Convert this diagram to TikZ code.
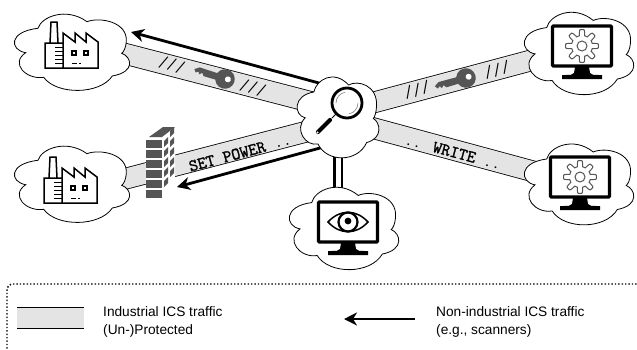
\documentclass[tikz,border=0pt]{standalone}
\usepackage{fontspec}
\setmainfont{Liberation Sans}
\newfontfamily\bandbold{Latin Modern Mono}[FakeBold=1.6]
\usetikzlibrary{arrows.meta}
\definecolor{bandgray}{HTML}{E4E4E4}
\definecolor{icongray}{HTML}{555555}
\tikzset{
    trafficband/.style={draw=black, line width=0.8pt, double=bandgray, double distance=20pt},
    scanarrow/.style={draw=black, line width=2.8pt, -{Stealth[length=13pt,width=13pt,inset=4pt]}},
    bandtext/.style={font=\ttfamily\fontsize{17}{17}\selectfont, inner sep=0pt},
    legendtext/.style={font=\fontsize{13.7}{18}\selectfont, align=left, anchor=west, inner sep=0pt},
    cloudshape/.pic={
        \draw[fill=white, line width=0.8pt]
            (-34,-21.7) .. controls (-30.7,-33.3) and (-5.7,-43.3) .. (15,-28.3)
            .. controls (27.7,-33.3) and (56,-28.3) .. (54.3,-8.3)
            .. controls (53.7,-1.7) and (51.7,1.7) .. (49.7,3.3)
            .. controls (59.3,6.7) and (64.3,21.7) .. (40.3,26)
            .. controls (27.7,45) and (-15.7,45) .. (-28.3,27.3)
            .. controls (-45.7,30) and (-62.3,13.3) .. (-46.3,2.7)
            .. controls (-62.3,0) and (-64,-18.3) .. (-34,-21.7) -- cycle;
    },
    factoryicon/.pic={
        \draw[line width=1.5pt, fill=white, line join=miter]
            (-22,-7) -- (-21,-28) -- (-15,-28) -- (-14,-7)
            (-27,-7) rectangle (-9,18)
            (-9,-7) -- (-9,-17) -- (3,-8) -- (3,-17) -- (14,-8) -- (14,-17) -- (26,-8) -- (26,18) -- (-9,18);
        \foreach \stripe in {-3,1,5,9,13}
            \draw[line width=1pt] (-17,\stripe) -- (-9,\stripe);
        \draw[line width=1.3pt] (0,1) rectangle (4,5) (12,1) rectangle (16,5);
        \draw[line width=1pt] (0,13) -- (5,13) (7,13) -- (9,13);
    },
    monitoricon/.pic={
        \draw[line width=3.4pt, rounded corners=1pt, fill=white] (-29.5,-20) rectangle (29.5,20);
        \fill (-7,21) -- (7,21) -- (8,27) .. controls (10,29) .. (20,29) -- (20,33) -- (-20,33) -- (-20,29)
            .. controls (-10,29) .. (-8,27) -- cycle;
    },
    gearicon/.pic={
        \draw[icongray, line width=1pt, smooth]
            plot[domain=0:360, samples=121] (\x:{13.5+3*max(min(2.2*cos(8*\x),1),-1)}) -- cycle;
        \draw[icongray, line width=1pt] (0,0) circle (5);
    },
    eyeicon/.pic={
        \draw[line width=1.5pt] (-20,0) .. controls (-8,-13) and (8,-13) .. (20,0)
            .. controls (8,13) and (-8,13) .. (-20,0) -- cycle;
        \draw[line width=2.2pt] (0,0) circle (9.5);
        \fill (0,-1) circle (3.4);
    },
    keyicon/.pic={
        \fill[icongray] (0,0) circle (8.5);
        \fill[icongray] (-5,-2.8) -- (-24,-2.8) -- (-28,0) -- (-26,2.5) -- (-24,1) -- (-22.5,3) -- (-20.5,1)
            -- (-18.5,3.4) -- (-5,3) -- cycle;
        \fill[white] (2.5,-0.5) circle (2.6);
    },
    magnifier/.pic={
        \draw[line width=2.8pt, fill=white] (0,0) circle (15);
        \draw[gray, line width=0.6pt] (-11,0) arc (180:260:11);
        \draw[gray, line width=0.6pt] (11,0) arc (0:80:11);
        \draw[line width=1pt] (-11,11) -- (-15,15);
        \draw[line width=4.2pt, draw=black, line cap=round] (-17,17) -- (-29,29);
        \fill[white] (-29.5,29.5) circle (1.2);
    },
}
\begin{document}
\begin{tikzpicture}[x=1pt, y=-1pt]
    \useasboundingbox (0,0) rectangle (637,349);
    % cloud centres
    \coordinate (factoryA) at (72,50);
    \coordinate (factoryB) at (72,182);
    \coordinate (stationA) at (579,51);
    \coordinate (stationB) at (579,182);
    \coordinate (observer) at (344,226);
    \coordinate (hub) at (338,115);
    % band ends under the clouds
    \coordinate (bandAleft) at (72,40);
    \coordinate (bandAright) at (338,109);
    \coordinate (bandBleft) at (72,192.6);
    \coordinate (bandBright) at (338,123.4);
    \coordinate (bandCleft) at (338,112);
    \coordinate (bandCright) at (579,47.6);
    \coordinate (bandDleft) at (338,118.6);
    \coordinate (bandDright) at (579,183.8);
    \coordinate (scanAstart) at (330,86);
    \coordinate (scanAend) at (131,32);
    \coordinate (scanBstart) at (331,145);
    \coordinate (scanBend) at (177,187);

    \draw[trafficband] (bandAleft) -- (bandAright);
    \draw[trafficband] (bandBleft) -- (bandBright);
    \draw[trafficband] (bandCleft) -- (bandCright);
    \draw[trafficband] (bandDleft) -- (bandDright);
    \draw[scanarrow] (scanAstart) -- (scanAend);
    \draw[scanarrow] (scanBstart) -- (scanBend);
    \draw[line width=2.5pt, double=white, double distance=5pt] (hub) -- (hub |- observer);

    % clouds
    \pic at (factoryA) {cloudshape};
    \pic at (factoryB) {cloudshape};
    \pic[xscale=0.95, yscale=1.08] at (stationA) {cloudshape};
    \pic[xscale=0.95, yscale=1.06] at (stationB) {cloudshape};
    \pic[xscale=0.95, yscale=1.08] at (observer) {cloudshape};
    \pic[xscale=0.71, yscale=1.06] at (hub) {cloudshape};

    % icons
    \pic at (72,50) {factoryicon};
    \pic at (71,185) {factoryicon};
    \pic at (582,46) {monitoricon};
    \pic at (582,46) {gearicon};
    \pic at (580,177) {monitoricon};
    \pic at (580,177) {gearicon};
    \pic at (348,222) {monitoricon};
    \pic at (348,222) {eyeicon};
    \pic at (347,103) {magnifier};
    \pic[rotate=-18, scale=1.15] at (225,79) {keyicon};
    \pic[rotate=15, scale=1.15] at (466,78) {keyicon};

    % firewall
    \fill[white] (146,139) -- (149,137) -- (163,127) -- (175,127) -- (175,185) -- (163,198) -- (146,198) -- cycle;
    \fill[icongray] (149,137) -- (163,127) -- (175,127) -- (162,137) -- cycle;
    \foreach \row in {0,...,5}
        \fill[icongray] (146,{140+10*\row}) rectangle (162,{147.5+10*\row});
    \foreach \row in {0,...,4} {
        \fill[icongray] (164,{141+10*\row}) -- (168,{137+10*\row}) -- (168,{143+10*\row}) -- (164,{147+10*\row}) -- cycle;
        \fill[icongray] (170,{131+10*\row}) -- (174,{127+10*\row}) -- (174,{133+10*\row}) -- (170,{137+10*\row}) -- cycle;
    }

    % band labels
    \node[bandtext, rotate=-15] (slashA) at (172,65) {///};
    \node[bandtext, rotate=-15] (slashB) at (253,88) {///};
    \node[bandtext, rotate=15] (slashC) at (417,90) {///};
    \node[bandtext, rotate=15] (slashD) at (497,70) {///};
    \node[bandtext, rotate=15] (setpower) at (240,153) {{\bandbold SET POWER} ..};
    \node[bandtext, rotate=-15] (writecmd) at (453,152) {.. {\bandbold WRITE} ..};

    % legend
    \draw[line width=1.4pt, dotted, rounded corners=6pt] (7,352) -- (7,284) -- (640,284);
    \coordinate (legendbandL) at (17,318);
    \coordinate (legendbandR) at (84,318);
    \draw[trafficband] (legendbandL) -- (legendbandR);
    \node[legendtext] (legendA) at (103,322) {Industrial ICS traffic\\(Un-)Protected};
    \coordinate (legendarrowstart) at (415,319);
    \coordinate (legendarrowend) at (344,319);
    \draw[scanarrow] (legendarrowstart) -- (legendarrowend);
    \node[legendtext] (legendB) at (436,322) {Non-industrial ICS traffic\\(e.g., scanners)};
\end{tikzpicture}
\end{document}
